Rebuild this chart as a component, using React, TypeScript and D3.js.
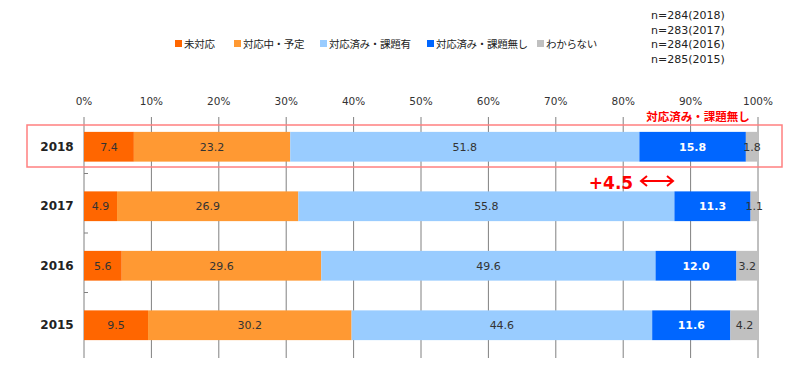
import React from "react";
import * as d3 from "d3";

const years = ["2018", "2017", "2016", "2015"];
const seriesNames = ["未対応", "対応中・予定", "対応済み・課題有", "対応済み・課題無し", "わからない"];
const seriesColors = ["#FF6600", "#FF9933", "#99CCFF", "#0066FF", "#C0C0C0"];
const labelColors = ["#333333", "#333333", "#333333", "#FFFFFF", "#333333"];
const v2018 = [7.4, 23.2, 51.8, 15.8, 1.8];
const v2017 = [4.9, 26.9, 55.8, 11.3, 1.1];
const v2016 = [5.6, 29.6, 49.6, 12.0, 3.2];
const v2015 = [9.5, 30.2, 44.6, 11.6, 4.2];
const xTicks = [0, 10, 20, 30, 40, 50, 60, 70, 80, 90, 100];
const nLabels = ["n=284(2018)", "n=283(2017)", "n=284(2016)", "n=285(2015)"];
const legendX = [178, 237, 323, 430, 540];

const values = [v2018, v2017, v2016, v2015];

export default function App() {
  const W = 800, H = 382;
  const x = d3.scaleLinear().domain([0, 100]).range([84, 758]);
  const y = d3.scaleBand().domain(years).range([117, 355]).paddingInner(0.5).paddingOuter(0.25);
  const step = y.step();
  const font = "Verdana, 'DejaVu Sans', sans-serif";
  const jfont = "'Noto Sans CJK JP', sans-serif";

  return (
    <svg width={W} height={H} style={{ position: "absolute", left: 0, top: 0 }}>
      <rect width={W} height={H} fill="#fff" />
      {/* legend */}
      {seriesNames.map((s, i) => (
        <g key={s}>
          <rect x={legendX[i] - 3} y={40} width={7} height={7} fill={seriesColors[i]} />
          <text x={legendX[i] + 6} y={47.5} fontFamily={jfont} fontSize={10.5} letterSpacing={-0.3} fill="#222">{s}</text>
        </g>
      ))}
      {nLabels.map((t, i) => (
        <text key={t} x={651} y={19 + i * 14.5} fontFamily={font} fontSize={11} fill="#222">{t}</text>
      ))}
      {/* x tick labels */}
      {xTicks.map((t) => (
        <text key={t} x={x(t)} y={105} textAnchor="middle" fontFamily={font} fontSize={10.5} fill="#333">{t}%</text>
      ))}
      {/* grid */}
      {xTicks.map((t) => (
        <line key={t} x1={x(t)} x2={x(t)} y1={117} y2={358} stroke="#808080" strokeWidth={1} />
      ))}
      {/* category separator ticks */}
      {[1, 2, 3].map((k) => (
        <line key={k} x1={84} x2={88} y1={117 + step * k - 3} y2={117 + step * k - 3} stroke="#808080" />
      ))}
      {/* bars */}
      {years.map((yr, r) => {
        const stack = d3.cumsum(values[r]);
        return (
          <g key={yr}>
            <text x={57} y={(y(yr) as number) + y.bandwidth() / 2 + 4} textAnchor="middle" fontFamily={font} fontSize={12} fontWeight="600" fill="#222">{yr}</text>
            {values[r].map((v, i) => {
              const x0 = x(stack[i] - v);
              const x1 = x(stack[i]);
              return (
                <g key={i}>
                  <rect x={x0} y={y(yr)} width={x1 - x0} height={y.bandwidth()} fill={seriesColors[i]} />
                  <text x={(x0 + x1) / 2} y={(y(yr) as number) + y.bandwidth() / 2 + 4} textAnchor="middle" fontFamily={font} fontSize={11} fontWeight={i === 3 ? "bold" : "normal"} fill={labelColors[i]}>{v.toFixed(1)}</text>
                </g>
              );
            })}
          </g>
        );
      })}
      {/* annotations */}
      <rect x={27} y={125} width={755} height={42} fill="none" stroke="#FF8080" strokeWidth={1.5} />
      <text x={698} y={121} textAnchor="middle" fontFamily={jfont} fontSize={11.5} fontWeight="bold" fill="#FF0000">対応済み・課題無し</text>
      <text x={611} y={189} textAnchor="middle" fontFamily={font} fontSize={17} fontWeight="bold" fill="#FF0000">+4.5</text>
      <g stroke="#FF0000" strokeWidth={2} fill="none">
        <line x1={641} x2={673} y1={181} y2={181} />
        <polyline points="647,176 641,181 647,186" />
        <polyline points="667,176 673,181 667,186" />
      </g>
    </svg>
  );
}
